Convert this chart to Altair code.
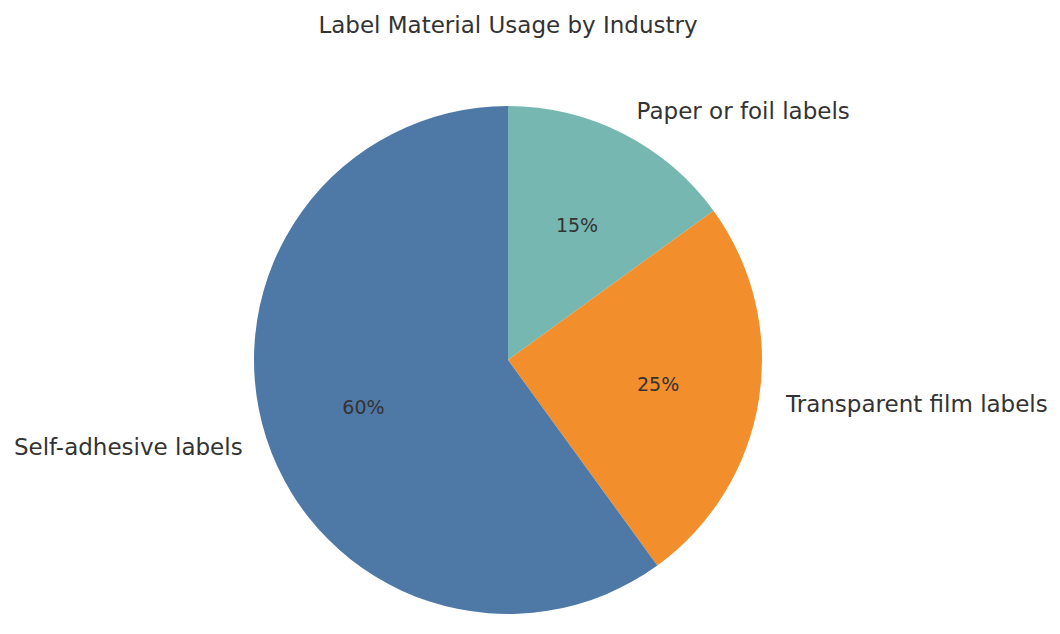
import altair as alt
import pandas as pd

categories = ["Paper or foil labels", "Transparent film labels", "Self-adhesive labels"]
shares = [15, 25, 60]
colors = ["#76B7B2", "#F28E2B", "#4E79A7"]

df = pd.DataFrame({"category": categories, "share": shares, "order": [0, 1, 2]})

base = alt.Chart(df).transform_window(
    end="sum(share)", sort=[alt.SortField("order")], frame=[None, 0]
).transform_calculate(
    start="datum.end - datum.share",
    mid="datum.end - datum.share / 2",
    pct="datum.share + '%'",
)

theta_scale = alt.Scale(domain=[0, 100], range=[0, 6.283185307179586])
cx, cy = 500, 302

arcs = base.mark_arc(outerRadius=254).encode(
    theta=alt.Theta("start:Q", scale=theta_scale),
    theta2="end:Q",
    color=alt.Color("category:N", scale=alt.Scale(domain=categories, range=colors), legend=None),
    x=alt.value(cx), y=alt.value(cy),
)

pct_text = base.mark_text(radius=152, fontSize=19, font="DejaVu Sans", color="#333333",
                          align="center", baseline="middle", dy=1).encode(
    theta=alt.Theta("mid:Q", scale=theta_scale),
    text="pct:N",
    x=alt.value(cx), y=alt.value(cy),
)

right_labels = base.transform_filter("datum.mid <= 50").mark_text(
    radius=280, fontSize=23, font="DejaVu Sans", color="#333333", align="left", baseline="middle", dy=1.5, dx=1.5
).encode(
    theta=alt.Theta("mid:Q", scale=theta_scale),
    text="category:N",
    x=alt.value(cx), y=alt.value(cy),
)

left_labels = base.transform_filter("datum.mid > 50").mark_text(
    radius=279, fontSize=23, font="DejaVu Sans", color="#333333", align="right", baseline="middle", dy=1.5
).encode(
    theta=alt.Theta("mid:Q", scale=theta_scale),
    text="category:N",
    x=alt.value(cx), y=alt.value(cy),
)

chart = alt.layer(arcs, pct_text, right_labels, left_labels).properties(
    width=1044, height=568,
    autosize=alt.AutoSizeParams(type="none"),
    padding={"left": 0, "top": 50, "right": 0, "bottom": 0},
    background="white",
    title=alt.TitleParams("Label Material Usage by Industry", fontSize=23, font="DejaVu Sans",
                          fontWeight="normal", color="#333333", anchor="middle", offset=20, dx=-22),
).configure_view(stroke=None)

chart.save("out.html", embed_options={"renderer": "svg", "actions": False})
